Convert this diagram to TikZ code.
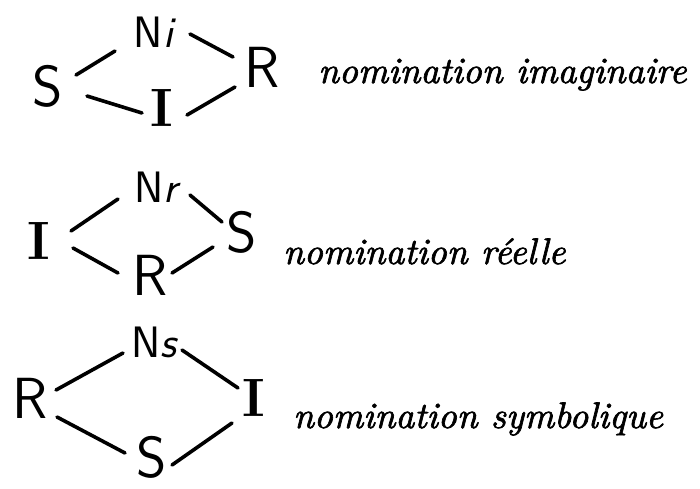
\documentclass[tikz,border=0pt]{standalone}
\usepackage{fontspec}
\newfontfamily\handfont{lmroman10-italic.otf}[FakeBold=1.8]
\usetikzlibrary{calc}
\begin{document}
\begin{tikzpicture}[x=1pt,y=-1pt,
  capl/.style={font=\sffamily\fontsize{58}{58}\selectfont, inner sep=0pt},
  capi/.style={font=\rmfamily\bfseries\fontsize{54}{54}\selectfont, inner sep=0pt},
  topl/.style={font=\sffamily\fontsize{44}{44}\selectfont, inner sep=0pt},
  lbl/.style={font=\handfont\fontsize{37}{37}\selectfont, anchor=base west, inner sep=0pt},
  link/.style={line width=3.6pt, line cap=round}]
\useasboundingbox[fill=white] (0,0) rectangle (700,488);
% --- nomination imaginaire
\node[capl] (S1) at (48,86) {S};
\node[topl] (N1) at (155,32) {N\textit{i}};
\node[capl] (R1) at (262,67) {R};
\node[capi] (I1) at (162,108) {I};
\draw[link] ($(S1)+(28,-11)$) -- ($(N1)+(-40,19)$);
\draw[link] ($(N1)+(35,2)$) -- ($(R1)+(-29,-10)$);
\draw[link] ($(S1)+(39,10)$) -- ($(I1)+(-20,5)$);
\draw[link] ($(I1)+(25,7)$) -- ($(R1)+(-27,20)$);
\node[lbl] (T1) at (318,83) {nomination imaginaire};
% --- nomination reelle
\node[capi] (I2) at (39,241) {I};
\node[topl] (N2) at (158,187) {N\textit{r}};
\node[capl] (S2) at (242,232) {S};
\node[capl] (R2) at (150,275) {R};
\draw[link] ($(I2)+(32,-10)$) -- ($(N2)+(-40,12)$);
\draw[link] ($(N2)+(32,8)$) -- ($(S2)+(-20,-10)$);
\draw[link] ($(I2)+(34,7)$) -- ($(R2)+(-32,-2)$);
\draw[link] ($(R2)+(22,-2)$) -- ($(S2)+(-29,15)$);
\node[lbl] (T2) at (283,264) {nomination réelle};
% --- nomination symbolique
\node[capl] (R3) at (30,398) {R};
\node[topl] (N3) at (155,342) {N\textit{s}};
\node[capi] (I3) at (254,398) {I};
\node[capl] (S3) at (152,457) {S};
\draw[link] ($(R3)+(26,-8)$) -- ($(N3)+(-32,11)$);
\draw[link] ($(N3)+(27,8)$) -- ($(I3)+(-16,-10)$);
\draw[link] ($(R3)+(27,19)$) -- ($(S3)+(-27,-4)$);
\draw[link] ($(S3)+(20,8)$) -- ($(I3)+(-22,25)$);
\node[lbl] (T3) at (293,428) {nomination symbolique};
\end{tikzpicture}
\end{document}
